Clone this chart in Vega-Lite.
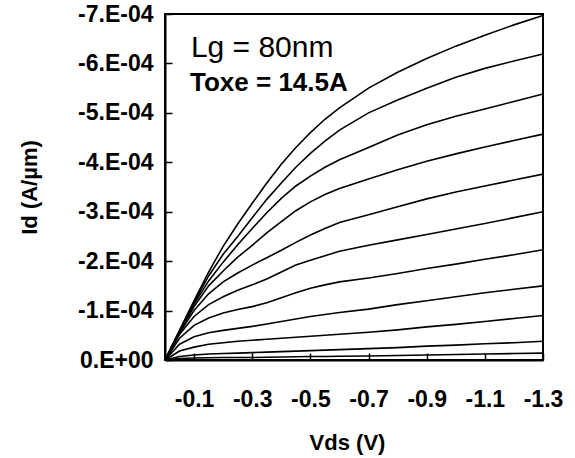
{
  "$schema": "https://vega.github.io/schema/vega-lite/v6.json",
  "width": 378,
  "height": 346,
  "autosize": {"type": "none"},
  "padding": {"left": 165, "top": 14, "right": 32, "bottom": 98},
  "background": "white",
  "config": {
    "view": {"stroke": "black", "strokeWidth": 2},
    "axis": {
      "grid": false,
      "labelFont": "Liberation Sans",
      "labelFontWeight": "bold",
      "labelFontSize": 23,
      "labelColor": "black",
      "labelFlush": false,
      "labelOverlap": false,
      "labelBound": false,
      "titleFont": "Liberation Sans",
      "titleFontWeight": "bold",
      "titleFontSize": 22,
      "titleColor": "black",
      "domainColor": "black",
      "domainWidth": 2,
      "tickColor": "black",
      "tickWidth": 1.5,
      "tickSize": -7
    }
  },
  "layer": [
    {
      "data": {
        "values": [
          {"Vds": 0, "c01": 0, "c02": 0, "c03": 0, "c04": 0, "c05": 0, "c06": 0, "c07": 0, "c08": 0, "c09": 0, "c10": 0, "c11": 0},
          {"Vds": -0.05, "c01": -0.6e-4, "c02": -0.59e-4, "c03": -0.58e-4, "c04": -0.57e-4, "c05": -0.55e-4, "c06": -0.52e-4, "c07": -0.44e-4, "c08": -0.32e-4, "c09": -0.18e-4, "c10": -0.07e-4, "c11": -0.03e-4},
          {"Vds": -0.1, "c01": -1.2e-4, "c02": -1.16e-4, "c03": -1.13e-4, "c04": -1.08e-4, "c05": -1.0e-4, "c06": -0.88e-4, "c07": -0.7e-4, "c08": -0.47e-4, "c09": -0.26e-4, "c10": -0.1e-4, "c11": -0.04e-4},
          {"Vds": -0.15, "c01": -1.78e-4, "c02": -1.7e-4, "c03": -1.6e-4, "c04": -1.5e-4, "c05": -1.34e-4, "c06": -1.12e-4, "c07": -0.85e-4, "c08": -0.55e-4, "c09": -0.32e-4, "c10": -0.12e-4, "c11": -0.045e-4},
          {"Vds": -0.2, "c01": -2.3e-4, "c02": -2.14e-4, "c03": -1.98e-4, "c04": -1.8e-4, "c05": -1.58e-4, "c06": -1.28e-4, "c07": -0.95e-4, "c08": -0.6e-4, "c09": -0.35e-4, "c10": -0.13e-4, "c11": -0.05e-4},
          {"Vds": -0.25, "c01": -2.75e-4, "c02": -2.5e-4, "c03": -2.33e-4, "c04": -2.08e-4, "c05": -1.76e-4, "c06": -1.41e-4, "c07": -1.02e-4, "c08": -0.64e-4, "c09": -0.38e-4, "c10": -0.14e-4, "c11": -0.05e-4},
          {"Vds": -0.3, "c01": -3.17e-4, "c02": -2.88e-4, "c03": -2.66e-4, "c04": -2.32e-4, "c05": -1.92e-4, "c06": -1.52e-4, "c07": -1.08e-4, "c08": -0.68e-4, "c09": -0.4e-4, "c10": -0.15e-4, "c11": -0.05e-4},
          {"Vds": -0.35, "c01": -3.58e-4, "c02": -3.25e-4, "c03": -2.98e-4, "c04": -2.57e-4, "c05": -2.07e-4, "c06": -1.64e-4, "c07": -1.16e-4, "c08": -0.73e-4, "c09": -0.42e-4, "c10": -0.16e-4, "c11": -0.055e-4},
          {"Vds": -0.4, "c01": -3.96e-4, "c02": -3.58e-4, "c03": -3.27e-4, "c04": -2.8e-4, "c05": -2.22e-4, "c06": -1.78e-4, "c07": -1.26e-4, "c08": -0.78e-4, "c09": -0.44e-4, "c10": -0.17e-4, "c11": -0.06e-4},
          {"Vds": -0.45, "c01": -4.3e-4, "c02": -3.9e-4, "c03": -3.52e-4, "c04": -3.02e-4, "c05": -2.38e-4, "c06": -1.92e-4, "c07": -1.36e-4, "c08": -0.83e-4, "c09": -0.46e-4, "c10": -0.18e-4, "c11": -0.065e-4},
          {"Vds": -0.5, "c01": -4.6e-4, "c02": -4.18e-4, "c03": -3.72e-4, "c04": -3.2e-4, "c05": -2.53e-4, "c06": -2.02e-4, "c07": -1.45e-4, "c08": -0.88e-4, "c09": -0.48e-4, "c10": -0.19e-4, "c11": -0.07e-4},
          {"Vds": -0.55, "c01": -4.87e-4, "c02": -4.43e-4, "c03": -3.9e-4, "c04": -3.35e-4, "c05": -2.66e-4, "c06": -2.11e-4, "c07": -1.52e-4, "c08": -0.92e-4, "c09": -0.5e-4, "c10": -0.2e-4, "c11": -0.07e-4},
          {"Vds": -0.6, "c01": -5.1e-4, "c02": -4.65e-4, "c03": -4.05e-4, "c04": -3.47e-4, "c05": -2.78e-4, "c06": -2.2e-4, "c07": -1.58e-4, "c08": -0.96e-4, "c09": -0.52e-4, "c10": -0.21e-4, "c11": -0.075e-4},
          {"Vds": -0.7, "c01": -5.5e-4, "c02": -5.0e-4, "c03": -4.3e-4, "c04": -3.66e-4, "c05": -2.94e-4, "c06": -2.32e-4, "c07": -1.66e-4, "c08": -1.03e-4, "c09": -0.56e-4, "c10": -0.23e-4, "c11": -0.08e-4},
          {"Vds": -0.8, "c01": -5.82e-4, "c02": -5.26e-4, "c03": -4.55e-4, "c04": -3.85e-4, "c05": -3.1e-4, "c06": -2.43e-4, "c07": -1.75e-4, "c08": -1.12e-4, "c09": -0.61e-4, "c10": -0.25e-4, "c11": -0.09e-4},
          {"Vds": -0.9, "c01": -6.1e-4, "c02": -5.5e-4, "c03": -4.76e-4, "c04": -4.02e-4, "c05": -3.26e-4, "c06": -2.54e-4, "c07": -1.85e-4, "c08": -1.2e-4, "c09": -0.67e-4, "c10": -0.28e-4, "c11": -0.1e-4},
          {"Vds": -1.0, "c01": -6.35e-4, "c02": -5.72e-4, "c03": -4.93e-4, "c04": -4.17e-4, "c05": -3.4e-4, "c06": -2.65e-4, "c07": -1.94e-4, "c08": -1.28e-4, "c09": -0.72e-4, "c10": -0.3e-4, "c11": -0.11e-4},
          {"Vds": -1.1, "c01": -6.57e-4, "c02": -5.9e-4, "c03": -5.08e-4, "c04": -4.31e-4, "c05": -3.52e-4, "c06": -2.76e-4, "c07": -2.04e-4, "c08": -1.36e-4, "c09": -0.78e-4, "c10": -0.33e-4, "c11": -0.12e-4},
          {"Vds": -1.2, "c01": -6.78e-4, "c02": -6.05e-4, "c03": -5.23e-4, "c04": -4.44e-4, "c05": -3.64e-4, "c06": -2.88e-4, "c07": -2.13e-4, "c08": -1.43e-4, "c09": -0.84e-4, "c10": -0.35e-4, "c11": -0.13e-4},
          {"Vds": -1.3, "c01": -6.97e-4, "c02": -6.19e-4, "c03": -5.38e-4, "c04": -4.57e-4, "c05": -3.76e-4, "c06": -3.0e-4, "c07": -2.23e-4, "c08": -1.5e-4, "c09": -0.9e-4, "c10": -0.38e-4, "c11": -0.14e-4}
        ]
      },
      "transform": [
        {"fold": ["c01", "c02", "c03", "c04", "c05", "c06", "c07", "c08", "c09", "c10", "c11"], "as": ["curve", "Id"]}
      ],
      "mark": {"type": "line", "color": "black", "strokeWidth": 1.6},
      "encoding": {
        "x": {
          "field": "Vds",
          "type": "quantitative",
          "scale": {"domain": [0, -1.3], "nice": false, "zero": false},
          "axis": {
            "values": [-0.1, -0.3, -0.5, -0.7, -0.9, -1.1, -1.3],
            "labelExpr": "'-' + format(abs(datum.value), '.1f')",
            "title": "Vds (V)",
            "labelPadding": 35,
            "titlePadding": 21,
            "titleX": 182
          }
        },
        "y": {
          "field": "Id",
          "type": "quantitative",
          "scale": {"domain": [0, -0.0007], "nice": false, "zero": false},
          "axis": {
            "values": [0, -0.0001, -0.0002, -0.0003, -0.0004, -0.0005, -0.0006, -0.0007],
            "labelExpr": "datum.value == 0 ? '0.E+00' : '-' + format(abs(datum.value) * 10000, '.0f') + '.E-04'",
            "title": "Id (A/µm)",
            "labelPadding": 19,
            "titlePadding": 36
          }
        },
        "detail": {"field": "curve", "type": "nominal"}
      }
    },
    {
      "data": {"values": [{"Vds": -0.089, "Id": -6.12e-4, "label": "Lg = 80nm"}]},
      "mark": {"type": "text", "align": "left", "baseline": "alphabetic", "font": "Liberation Sans", "fontSize": 30, "color": "black"},
      "encoding": {
        "x": {"field": "Vds", "type": "quantitative"},
        "y": {"field": "Id", "type": "quantitative"},
        "text": {"field": "label"}
      }
    },
    {
      "data": {"values": [{"Vds": -0.086, "Id": -5.45e-4, "label": "Toxe = 14.5A"}]},
      "mark": {"type": "text", "align": "left", "baseline": "alphabetic", "font": "Liberation Sans", "fontSize": 26, "fontWeight": "bold", "color": "black"},
      "encoding": {
        "x": {"field": "Vds", "type": "quantitative"},
        "y": {"field": "Id", "type": "quantitative"},
        "text": {"field": "label"}
      }
    }
  ]
}
